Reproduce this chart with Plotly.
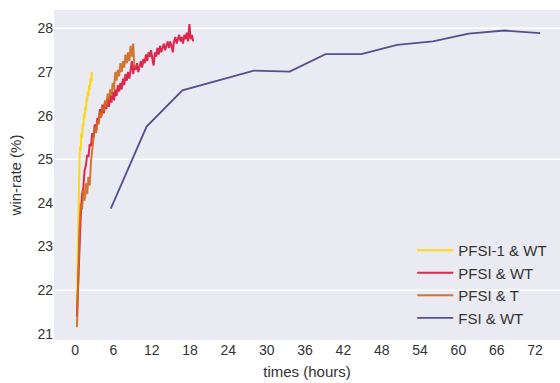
import plotly.graph_objects as go

# ---- data ----
pfsi1_wt_hours = [0.3, 0.4, 0.5, 0.6, 0.7, 0.8, 0.9, 1.0, 1.1, 1.2, 1.3, 1.4, 1.5,
                  1.6, 1.7, 1.8, 1.9, 2.0, 2.1, 2.2, 2.3, 2.4, 2.5, 2.6, 2.65]
pfsi1_wt_rate = [21.6, 22.8, 23.6, 24.4, 25.0, 25.3, 25.2, 25.6, 25.5, 25.8, 25.75, 26.05, 25.95,
                 26.2, 26.1, 26.4, 26.3, 26.55, 26.45, 26.7, 26.6, 26.85, 26.75, 27.0, 26.8]

pfsi_wt_hours = [0.3, 0.5, 0.7, 0.9, 1.1, 1.3, 1.5, 1.7, 1.9, 2.1, 2.3, 2.5, 2.7, 2.9,
                 3.1, 3.3, 3.5, 3.7, 3.9, 4.1, 4.3, 4.5, 4.7, 4.9, 5.1, 5.3, 5.5, 5.7,
                 5.9, 6.1, 6.3, 6.5, 6.7, 6.9, 7.1, 7.3, 7.5, 7.7, 7.9, 8.1, 8.3, 8.5,
                 8.7, 8.9, 9.1, 9.3, 9.5, 9.7, 9.9, 10.1, 10.3, 10.5, 10.7, 10.9, 11.1,
                 11.3, 11.5, 11.7, 11.9, 12.1, 12.3, 12.5, 12.7, 12.9, 13.1, 13.3, 13.5,
                 13.7, 13.9, 14.1, 14.3, 14.5, 14.7, 14.9, 15.1, 15.3, 15.5, 15.7, 15.9,
                 16.1, 16.3, 16.5, 16.7, 16.9, 17.1, 17.3, 17.5, 17.7, 17.9, 18.1, 18.3, 18.5]
pfsi_wt_rate = [21.4, 22.3, 23.1, 23.7, 24.2, 24.35, 24.75, 24.85, 25.1, 25.05, 25.35, 25.3, 25.6, 25.5,
                25.8, 25.65, 25.95, 25.85, 26.15, 26.0, 26.25, 26.05, 26.3, 26.15, 26.4, 26.2, 26.45, 26.3,
                26.55, 26.35, 26.6, 26.45, 26.7, 26.55, 26.75, 26.6, 26.85, 26.7, 26.95, 26.8, 27.0, 26.85,
                27.05, 27.25, 26.95, 27.15, 27.05, 27.2, 27.0, 27.15, 27.25, 27.1, 27.3, 27.2, 27.4,
                27.25, 27.45, 27.35, 27.5, 27.3, 27.15, 27.45, 27.35, 27.55, 27.4, 27.6, 27.45,
                27.55, 27.65, 27.5, 27.6, 27.7, 27.55, 27.7, 27.6, 27.45, 27.7, 27.8, 27.65,
                27.75, 27.85, 27.7, 27.8, 27.65, 27.85, 27.75, 27.9, 27.7, 28.1, 27.75, 27.85, 27.7]

pfsi_t_hours = [0.3, 0.5, 0.7, 0.9, 1.1, 1.3, 1.5, 1.7, 1.9, 2.1, 2.3, 2.5, 2.7, 2.9,
                3.1, 3.3, 3.5, 3.7, 3.9, 4.1, 4.3, 4.5, 4.7, 4.9, 5.1, 5.3, 5.5, 5.7,
                5.9, 6.1, 6.3, 6.5, 6.7, 6.9, 7.1, 7.3, 7.5, 7.7, 7.9, 8.1, 8.3, 8.5,
                8.7, 8.9, 9.1, 9.3]
pfsi_t_rate = [21.15, 22.5, 23.4, 24.0, 23.85, 24.3, 24.05, 24.45, 24.2, 24.6, 24.4, 24.95, 25.2, 25.5,
               25.75, 25.6, 25.9, 25.8, 26.1, 25.95, 26.2, 26.1, 26.35, 26.2, 26.5, 26.35, 26.6, 26.45,
               26.75, 26.6, 27.0, 26.8, 27.05, 26.9, 27.2, 27.0, 27.25, 27.1, 27.4, 27.2, 27.45, 27.25,
               27.6, 27.35, 27.65, 27.1]

fsi_wt_hours = [5.6, 11.2, 16.8, 22.4, 28.0, 33.6, 39.2, 44.8, 50.4, 56.0, 61.6, 67.2, 72.8]
fsi_wt_rate = [23.87, 25.75, 26.58, 26.8, 27.03, 27.01, 27.41, 27.41, 27.62, 27.70, 27.88, 27.95, 27.89]

series_names = ["PFSI-1 & WT", "PFSI & WT", "PFSI & T", "FSI & WT"]
series_colors = ["#FFD700", "#DC143C", "#D2691E", "#483D8B"]

x_ticks = [0, 6, 12, 18, 24, 30, 36, 42, 48, 54, 60, 66, 72]
y_ticks = [21, 22, 23, 24, 25, 26, 27, 28]
grid_y = [22, 25, 28]

# ---- figure ----
fig = go.Figure()
data = [(pfsi1_wt_hours, pfsi1_wt_rate), (pfsi_wt_hours, pfsi_wt_rate),
        (pfsi_t_hours, pfsi_t_rate), (fsi_wt_hours, fsi_wt_rate)]
widths = [2, 2, 2, 1.8]
for (xs, ys), name, col, w in zip(data, series_names, series_colors, widths):
    fig.add_trace(go.Scatter(x=xs, y=ys, mode="lines", name=name,
                             line=dict(color=col, width=w), opacity=0.9))

for gy in grid_y:
    fig.add_shape(type="line", xref="paper", yref="y", x0=0, x1=1, y0=gy, y1=gy,
                  line=dict(color="white", width=1.5), layer="below")

font_main = "Liberation Sans, Arial, sans-serif"
fig.update_layout(
    width=560, height=383,
    margin=dict(l=54, r=0, t=10, b=43),
    paper_bgcolor="white",
    plot_bgcolor="#EAEAF2",
    font=dict(family=font_main, size=14, color="#333333"),
    showlegend=True,
    legend=dict(x=0.708, y=0.321, xanchor="left", yanchor="top", itemwidth=36,
                bgcolor="rgba(0,0,0,0)", font=dict(size=15, color="#333333")),
    xaxis=dict(range=[-3.29, 75.9], tickvals=x_ticks, showgrid=False, zeroline=False,
               ticks="", title=dict(text="times (hours)", standoff=9, font=dict(size=15))),
    yaxis=dict(range=[20.86, 28.42], tickvals=y_ticks, showgrid=False, zeroline=False,
               ticks="", title=dict(text="win-rate (%)", standoff=12, font=dict(size=15))),
)

fig.write_html("out.html")
